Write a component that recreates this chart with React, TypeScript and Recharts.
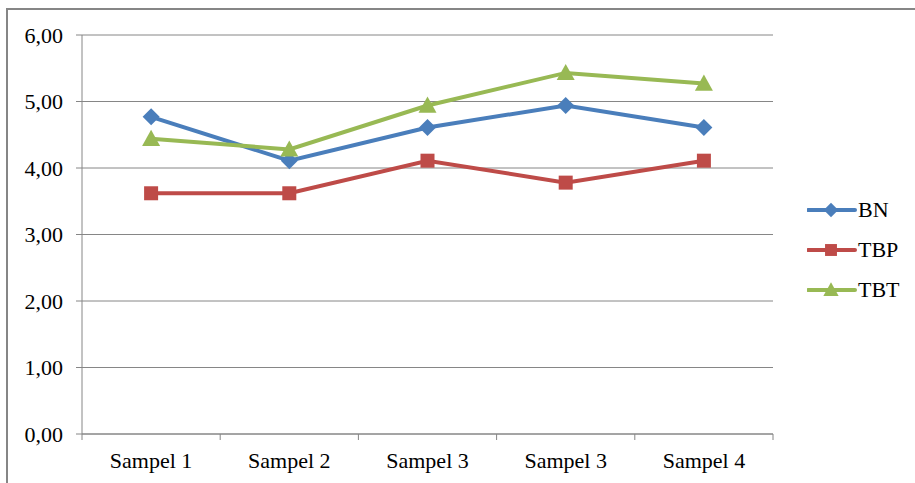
import React from 'react';
import { LineChart, Line, XAxis, YAxis, CartesianGrid, Legend } from 'recharts';

const categories = ['Sampel 1', 'Sampel 2', 'Sampel 3', 'Sampel 3', 'Sampel 4'];
const bnValues = [4.77, 4.11, 4.61, 4.94, 4.61];
const tbpValues = [3.62, 3.62, 4.11, 3.78, 4.11];
const tbtValues = [4.44, 4.28, 4.94, 5.43, 5.27];
const yTicks = [0, 1, 2, 3, 4, 5, 6];

const FONT = "'Times New Roman', 'Liberation Serif', 'DejaVu Serif', serif";
const GRID = '#868686';

const series = [
  { key: 'BN', color: '#4A7EBB', shape: 'diamond' },
  { key: 'TBP', color: '#BE4B48', shape: 'square' },
  { key: 'TBT', color: '#98B954', shape: 'triangle' },
];

// x sits in the middle of each category band, Excel style
const data = categories.map((name, i) => ({
  name,
  x: i + 0.5,
  BN: bnValues[i],
  TBP: tbpValues[i],
  TBT: tbtValues[i],
}));

const xTicks = [0, 0.5, 1, 1.5, 2, 2.5, 3, 3.5, 4, 4.5, 5];

const Marker = ({ cx, cy, shape, color, s = 1 }: any) => {
  if (cx == null || cy == null) return null;
  if (shape === 'diamond') {
    const r = 8.5 * s;
    return <polygon points={`${cx},${cy - r} ${cx + r},${cy} ${cx},${cy + r} ${cx - r},${cy}`} fill={color} />;
  }
  if (shape === 'square') {
    const r = 7 * s;
    return <rect x={cx - r} y={cy - r} width={r * 2} height={r * 2} fill={color} />;
  }
  const r = 9 * s;
  return <polygon points={`${cx},${cy - r} ${cx + r},${cy + r * 0.8} ${cx - r},${cy + r * 0.8}`} fill={color} />;
};

const XTick = ({ x, y, payload }: any) => {
  const v = payload.value;
  if (Number.isInteger(v)) {
    return <line x1={x} x2={x} y1={y} y2={y + 6} stroke={GRID} />;
  }
  return (
    <text x={x} y={y + 34} textAnchor="middle" style={{ fontFamily: FONT, fontSize: 22 }} fill="#000">
      {categories[Math.floor(v)]}
    </text>
  );
};

const LegendBox = () => (
  <div style={{ fontFamily: FONT, fontSize: 22, color: '#000' }}>
    {series.map((s) => (
      <div key={s.key} style={{ display: 'flex', alignItems: 'center', height: 40 }}>
        <svg width={50} height={20}>
          <line x1={1} x2={48} y1={10} y2={10} stroke={s.color} strokeWidth={4} strokeLinecap="round" />
          <Marker cx={24} cy={10} shape={s.shape} color={s.color} s={0.85} />
        </svg>
        <span style={{ marginLeft: 1 }}>{s.key}</span>
      </div>
    ))}
  </div>
);

export default function App() {
  return (
    <div style={{ position: 'fixed', left: 0, top: 0, width: 915, height: 483, background: '#fff', fontFamily: FONT }}>
      <div
        style={{
          position: 'absolute',
          left: 6,
          top: 8,
          width: 915,
          height: 483,
          borderTop: `2px solid ${GRID}`,
          borderLeft: `2px solid ${GRID}`,
        }}
      />
      <div style={{ position: 'absolute', left: 0, top: 0 }}>
        <LineChart width={915} height={483} data={data} margin={{ top: 35, right: 32, bottom: 0, left: 0 }} style={{ fontFamily: FONT }}>
          <CartesianGrid vertical={false} stroke={GRID} />
          <XAxis
            dataKey="x"
            type="number"
            domain={[0, 5]}
            ticks={xTicks}
            interval={0}
            height={49}
            tickLine={false}
            tickSize={0}
            tickMargin={0}
            axisLine={{ stroke: GRID }}
            tick={<XTick />}
          />
          <YAxis
            domain={[0, 6]}
            ticks={yTicks}
            interval={0}
            width={82}
            tickSize={6}
            tickMargin={13}
            axisLine={{ stroke: GRID }}
            tickLine={{ stroke: GRID }}
            tickFormatter={(v: number) => v.toFixed(2).replace('.', ',')}
            tick={{ style: { fontFamily: FONT }, fontSize: 22, fill: '#000' }}
          />
          <Legend
            layout="vertical"
            align="right"
            verticalAlign="middle"
            content={<LegendBox />}
            wrapperStyle={{ width: 110, left: 807, top: 190 }}
          />
          {series.map((s) => (
            <Line
              key={s.key}
              dataKey={s.key}
              stroke={s.color}
              strokeWidth={4}
              isAnimationActive={false}
              dot={(p: any) => <Marker key={`${s.key}-${p.index}`} cx={p.cx} cy={p.cy} shape={s.shape} color={s.color} />}
              activeDot={false}
            />
          ))}
        </LineChart>
      </div>
    </div>
  );
}
